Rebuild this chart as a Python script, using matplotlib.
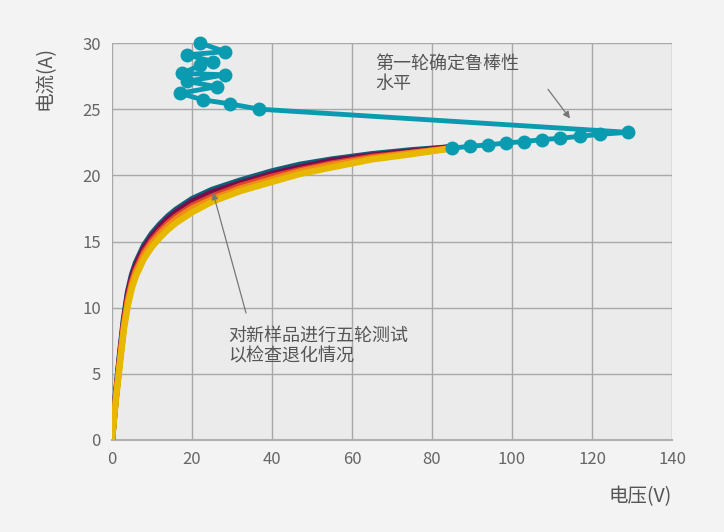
import matplotlib
matplotlib.use("Agg")
import matplotlib.pyplot as plt

plt.rcParams['font.family'] = ['Noto Sans CJK SC', 'DejaVu Sans']

V = [0, 1, 2, 3, 4, 5, 6, 8, 10, 12, 14, 16, 20, 25, 32, 40, 47, 55, 65, 75, 84]
I_r1 = [0, 3.5, 6.5, 9.2, 11.2, 12.5, 13.4, 14.7, 15.6, 16.3, 16.9, 17.4, 18.2, 18.9, 19.6, 20.3, 20.8, 21.2, 21.6, 21.9, 22.1]
I_r2 = [0, 3.4, 6.3, 9.0, 11.0, 12.3, 13.2, 14.5, 15.4, 16.1, 16.7, 17.2, 18.0, 18.7, 19.4, 20.1, 20.6, 21.1, 21.5, 21.8, 22.1]
I_r3 = [0, 3.3, 6.1, 8.8, 10.7, 12.0, 12.9, 14.2, 15.1, 15.8, 16.4, 16.9, 17.7, 18.4, 19.2, 19.9, 20.4, 20.9, 21.4, 21.7, 22.05]
I_r4 = [0, 3.2, 6.0, 8.6, 10.5, 11.8, 12.7, 14.0, 14.9, 15.6, 16.2, 16.7, 17.5, 18.2, 19.0, 19.7, 20.3, 20.8, 21.3, 21.7, 22.0]
I_r5 = [0, 3.1, 5.8, 8.4, 10.2, 11.5, 12.4, 13.7, 14.6, 15.3, 15.9, 16.4, 17.2, 18.0, 18.8, 19.5, 20.1, 20.6, 21.2, 21.6, 22.0]
round_colors = ['#0e6178', '#7a0d4a', '#e0442a', '#f08c1a', '#e6b800']

V_rob = [85, 89.5, 94, 98.5, 103, 107.5, 112, 117, 122, 129,
         36.8, 29.5, 22.8, 17.0, 26.2, 18.7, 28.25, 17.4, 22.0, 25.3, 18.7, 28.25, 22.0]
I_rob = [22.05, 22.2, 22.3, 22.45, 22.55, 22.7, 22.8, 22.95, 23.1, 23.25,
         25.0, 25.4, 25.7, 26.2, 26.7, 27.1, 27.6, 27.7, 28.3, 28.6, 29.1, 29.35, 30.0]

xticks = [0, 20, 40, 60, 80, 100, 120, 140]
yticks = [0, 5, 10, 15, 20, 25, 30]

fig = plt.figure(figsize=(7.24, 5.32), dpi=100, facecolor='#f3f3f3')
ax = fig.add_axes([112/724, 92/532, 560/724, 397/532])
ax.set_facecolor('#ebebeb')

for I, c in zip([I_r1, I_r2, I_r3, I_r4, I_r5], round_colors):
    ax.plot(V, I, color=c, lw=4.5, solid_capstyle='round', solid_joinstyle='round', zorder=3)

ax.plot(V_rob, I_rob, color='#0a9bb0', lw=3.5, marker='o', ms=9, zorder=4, clip_on=False)

ax.set_xlim(0, 140)
ax.set_ylim(0, 30)
ax.set_xticks(xticks)
ax.set_yticks(yticks)
ax.grid(True, color='#a8a8a8', lw=1)
ax.set_axisbelow(True)
for s in ['top', 'right', 'left']:
    ax.spines[s].set_visible(False)
ax.spines['bottom'].set_color('#b0b0b0')
ax.spines['bottom'].set_linewidth(1.5)
ax.tick_params(length=0, colors='#666666', labelsize=12, pad=8)

tc = '#555555'
arrow = dict(arrowstyle='-|>', color='#777777', lw=0.9, shrinkA=0, shrinkB=0, mutation_scale=10)
ax.text(65.75, 26.2, '第一轮确定鲁棒性\n水平', fontsize=13, color=tc, ha='left', va='bottom', linespacing=1.2)
ax.annotate('', xy=(114.5, 24.3), xytext=(109, 26.5), arrowprops=arrow)
ax.text(29, 5.6, '对新样品进行五轮测试\n以检查退化情况', fontsize=13, color=tc, ha='left', va='bottom', linespacing=1.2)
ax.annotate('', xy=(25.25, 18.7), xytext=(33.5, 9.6), arrowprops=arrow)

fig.text(640/724, 1 - 497/532, '电压(V)', fontsize=14, color=tc, ha='center', va='center')
fig.text(45/724, 1 - 78/532, '电流(A)', fontsize=14, color=tc, ha='center', va='center', rotation=90)

fig.savefig('out.png', dpi=100, facecolor=fig.get_facecolor())
